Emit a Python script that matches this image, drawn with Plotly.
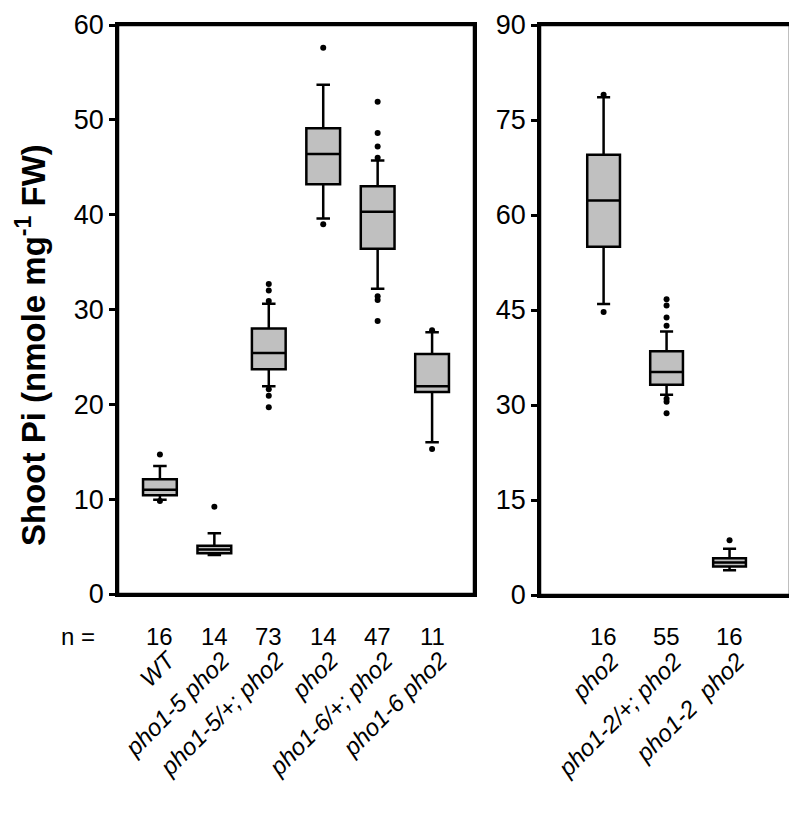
import plotly.graph_objects as go

# ---------------- data ----------------
left_cats = ["WT", "pho1-5 pho2", "pho1-5/+; pho2", "pho2", "pho1-6/+; pho2", "pho1-6 pho2"]
left_n = [16, 14, 73, 14, 47, 11]
left_q1 = [10.4, 4.3, 23.7, 43.2, 36.4, 21.3]
left_median = [11.0, 4.7, 25.4, 46.4, 40.3, 21.9]
left_q3 = [12.1, 5.1, 28.0, 49.1, 43.0, 25.3]
left_lowerfence = [9.95, 4.1, 21.9, 39.6, 32.2, 16.0]
left_upperfence = [13.5, 6.4, 30.6, 53.7, 45.7, 27.6]
left_outlier_cat = [0, 0, 1, 2, 2, 2, 2, 2, 2, 3, 3, 4, 4, 4, 4, 4, 4, 4, 5, 5]
left_outlier_val = [14.7, 9.8, 9.2, 32.7, 32.0, 30.9, 21.6, 20.9, 19.7, 57.6, 39.0,
                    51.9, 48.6, 47.2, 46.0, 31.4, 31.0, 28.8, 27.8, 15.3]

right_cats = ["pho2", "pho1-2/+; pho2", "pho1-2  pho2"]
right_n = [16, 55, 16]
right_q1 = [55.0, 33.2, 4.5]
right_median = [62.3, 35.2, 5.15]
right_q3 = [69.5, 38.5, 5.8]
right_lowerfence = [45.95, 31.6, 3.9]
right_upperfence = [78.6, 41.6, 7.3]
right_outlier_cat = [0, 0, 1, 1, 1, 1, 1, 1, 1, 2]
right_outlier_val = [79.0, 44.7, 46.7, 45.7, 43.8, 42.5, 31.0, 30.5, 28.7, 8.65]

left_ticks = [0, 10, 20, 30, 40, 50, 60]
right_ticks = [0, 15, 30, 45, 60, 75, 90]

# ---------------- figure ----------------
FONT = "Liberation Sans, Arial, sans-serif"
OFF = 8                      # browser default body margin
W, H = 797 - OFF, 814 - OFF
fig = go.Figure()

box_style = dict(fillcolor="#c0c0c0", line=dict(color="black", width=2.5),
                 whiskerwidth=0.4, boxpoints=False, showlegend=False)

fig.add_trace(go.Box(x=list(range(len(left_cats))), q1=left_q1, median=left_median,
                     q3=left_q3, lowerfence=left_lowerfence, upperfence=left_upperfence,
                     width=0.62, xaxis="x", yaxis="y", **box_style))
fig.add_trace(go.Scatter(x=left_outlier_cat, y=left_outlier_val, mode="markers",
                         marker=dict(color="black", size=6), xaxis="x", yaxis="y",
                         showlegend=False))

fig.add_trace(go.Box(x=list(range(len(right_cats))), q1=right_q1, median=right_median,
                     q3=right_q3, lowerfence=right_lowerfence, upperfence=right_upperfence,
                     width=0.52, xaxis="x2", yaxis="y2", **box_style))
fig.add_trace(go.Scatter(x=right_outlier_cat, y=right_outlier_val, mode="markers",
                         marker=dict(color="black", size=6), xaxis="x2", yaxis="y2",
                         showlegend=False))

def px_x(p):
    return (p - OFF) / W

def px_y(p):
    return 1 - (p - OFF) / H

axis_common = dict(showline=True, mirror=True, linecolor="black", linewidth=2.5,
                   showgrid=False, zeroline=False, automargin=False)

TICK = 27
CAT = 24
TOP = 25
fig.update_layout(
    width=W, height=H,
    margin=dict(l=0, r=0, t=0, b=0),
    paper_bgcolor="white", plot_bgcolor="white",
    font=dict(family=FONT, color="black"),
    xaxis=dict(domain=[px_x(118), px_x(474)], range=[-0.77, 5.77],
               tickvals=list(range(len(left_cats))),
               ticktext=[f"<i>{c}</i>" for c in left_cats],
               tickangle=-45, ticks="", ticklabelstandoff=40, ticklabelshift=8,
               tickfont=dict(size=CAT), anchor="y", **axis_common),
    yaxis=dict(domain=[px_y(594), px_y(TOP)], range=[0, 60], tickvals=left_ticks,
               ticks="outside", ticklen=6, tickwidth=2.5, tickcolor="black",
               ticklabeloverflow="allow",
               tickfont=dict(size=TICK), anchor="x", **axis_common),
    xaxis2=dict(domain=[px_x(540), px_x(790)], range=[-1.01, 2.96],
                tickvals=list(range(len(right_cats))),
                ticktext=[f"<i>{c}</i>" for c in right_cats],
                tickangle=-45, ticks="", ticklabelstandoff=40, ticklabelshift=8,
                tickfont=dict(size=CAT), anchor="y2", **axis_common),
    yaxis2=dict(domain=[px_y(595), px_y(TOP)], range=[0, 90], tickvals=right_ticks,
                ticks="outside", ticklen=6, tickwidth=2.5, tickcolor="black",
                ticklabeloverflow="allow",
                tickfont=dict(size=TICK), anchor="x2", **axis_common),
)

# full frames around both panels
for xr, yr in (("x domain", "y domain"), ("x2 domain", "y2 domain")):
    fig.add_shape(type="rect", xref=xr, yref=yr, x0=0, x1=1, y0=0, y1=1,
                  line=dict(color="black", width=2.5), fillcolor="rgba(0,0,0,0)",
                  layer="above")

annotations = [
    dict(text="<b>Shoot Pi (nmole mg<sup>-1</sup> FW)</b>", textangle=-90,
         xref="paper", yref="paper", x=0, y=px_y(345),
         xanchor="left", yanchor="middle", showarrow=False, font=dict(size=33)),
    dict(text="n =", xref="paper", yref="paper", x=px_x(78), y=px_y(636),
         xanchor="center", yanchor="middle", showarrow=False, font=dict(size=24)),
]
for i, n in enumerate(left_n):
    annotations.append(dict(text=str(n), xref="x", yref="paper", x=i, y=px_y(636),
                            xanchor="center", yanchor="middle", showarrow=False,
                            font=dict(size=24)))
for i, n in enumerate(right_n):
    annotations.append(dict(text=str(n), xref="x2", yref="paper", x=i, y=px_y(636),
                            xanchor="center", yanchor="middle", showarrow=False,
                            font=dict(size=24)))
fig.update_layout(annotations=annotations)

fig.write_html("out.html")
